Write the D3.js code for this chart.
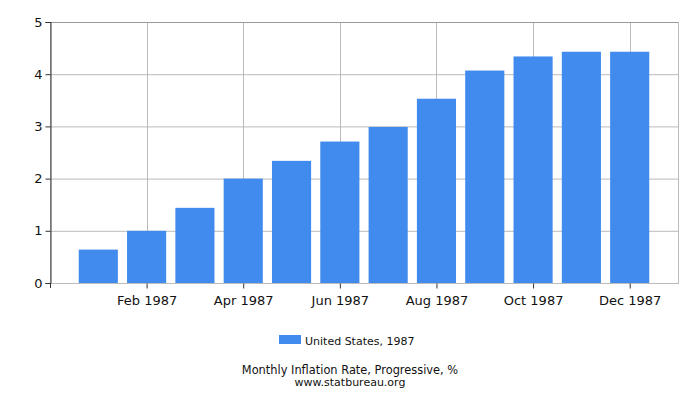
<!DOCTYPE html>
<html>
<head>
<meta charset="utf-8">
<script src="https://cdn.jsdelivr.net/npm/d3@7"></script>
<style>
  body { margin: 0; background: #fff; }
  text { font-family: "DejaVu Sans", sans-serif; }
</style>
</head>
<body>
<svg id="chart" width="700" height="400"></svg>
<script>
// monthly cumulative inflation, US 1987
const months = ['Jan 1987', 'Feb 1987', 'Mar 1987', 'Apr 1987', 'May 1987', 'Jun 1987',
  'Jul 1987', 'Aug 1987', 'Sep 1987', 'Oct 1987', 'Nov 1987', 'Dec 1987']
const values = [0.64, 1.00, 1.44, 2.00, 2.34, 2.71, 2.99, 3.53, 4.07, 4.34, 4.43, 4.43]
const yTicks = [0, 1, 2, 3, 4, 5]
const labelled = ['Feb 1987', 'Apr 1987', 'Jun 1987', 'Aug 1987', 'Oct 1987', 'Dec 1987']

const margin = { top: 22, right: 22, bottom: 117, left: 50 }
const width = 700 - margin.left - margin.right
const height = 400 - margin.top - margin.bottom

const svg = d3.select('#chart')
const g = svg.append('g')
  .attr('transform', 'translate(' + margin.left + ',' + margin.top + ')')

const x = d3.scalePoint().domain(months).range([0, width]).padding(1)
const y = d3.scaleLinear().domain([0, 5]).range([height, 0])
const barW = x.step() * 0.81

// grid
g.selectAll('.hgrid').data(yTicks).enter().append('line')
  .attr('x1', 0).attr('x2', width)
  .attr('y1', d => y(d) + 0.5).attr('y2', d => y(d) + 0.5)
  .attr('stroke', '#bbb')
g.selectAll('.vgrid').data(labelled).enter().append('line')
  .attr('x1', d => Math.round(x(d)) + 0.5).attr('x2', d => Math.round(x(d)) + 0.5)
  .attr('y1', 0).attr('y2', height)
  .attr('stroke', '#bbb')

// frame
g.append('rect')
  .attr('x', 0.5).attr('y', 0.5)
  .attr('width', width).attr('height', height)
  .attr('fill', 'none').attr('stroke', '#bbb')
g.append('line').attr('x1', 0).attr('x2', width).attr('y1', 0.5).attr('y2', 0.5)
  .attr('stroke', '#999')

// bars
g.selectAll('.bar').data(values).enter().append('rect')
  .attr('class', 'bar')
  .attr('x', (d, i) => x(months[i]) - barW / 2)
  .attr('y', d => y(d))
  .attr('width', barW)
  .attr('height', d => height - y(d))
  .attr('fill', '#428bee')

// y axis
const yAxis = g.append('g')
  .attr('transform', 'translate(0.5,0)')
  .call(d3.axisLeft(y).tickValues(yTicks).tickSize(5).tickPadding(3).tickFormat(d3.format('d')))
yAxis.select('.domain').attr('stroke', '#333')
yAxis.selectAll('.tick line').attr('stroke', '#333')
yAxis.selectAll('text').attr('font-size', 13).attr('fill', '#111')
  .attr('font-family', '"DejaVu Sans", sans-serif')

// x axis
const xAxis = g.append('g')
  .attr('transform', 'translate(0,' + (height + 0.5) + ')')
  .call(d3.axisBottom(x).tickValues(labelled).tickSize(5).tickPadding(7))
xAxis.select('.domain').remove()
xAxis.selectAll('.tick line').attr('stroke', '#333')
xAxis.selectAll('text').attr('font-size', 13).attr('fill', '#111')
  .attr('font-family', '"DejaVu Sans", sans-serif')
g.append('line')
  .attr('x1', 0.5).attr('x2', 0.5).attr('y1', height).attr('y2', height + 5)
  .attr('stroke', '#333')

// legend
const legend = svg.append('g').attr('transform', 'translate(279,335)')
legend.append('rect').attr('width', 22).attr('height', 9).attr('fill', '#428bee')
legend.append('text').attr('x', 26).attr('y', 9.5)
  .attr('font-size', 11).attr('fill', '#111')
  .text('United States, 1987')

svg.append('text').attr('x', 350).attr('y', 374)
  .attr('text-anchor', 'middle').attr('font-size', 11.4).attr('fill', '#111')
  .text('Monthly Inflation Rate, Progressive, %')
svg.append('text').attr('x', 350).attr('y', 385.5)
  .attr('text-anchor', 'middle').attr('font-size', 11).attr('fill', '#111')
  .text('www.statbureau.org')
</script>
</body>
</html>
